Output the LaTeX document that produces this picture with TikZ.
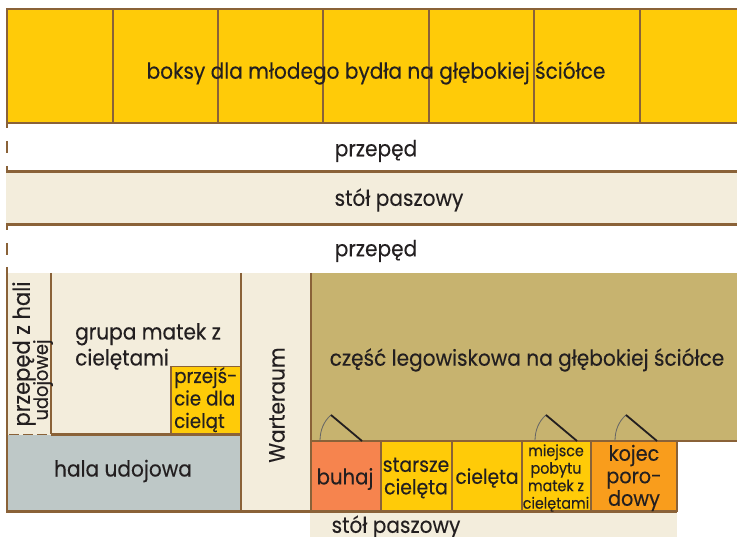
\documentclass[tikz,border=0pt]{standalone}
\usepackage{fontspec}
\setmainfont[FakeStretch=0.915,FakeBold=0.25]{Poppins}
\definecolor{wall}{HTML}{8A6238}
\definecolor{yel}{HTML}{FFCB08}
\definecolor{bei}{HTML}{F3EDDC}
\definecolor{oli}{HTML}{C7B36F}
\definecolor{gry}{HTML}{BEC8C7}
\definecolor{sal}{HTML}{F6844E}
\definecolor{ora}{HTML}{F99D1C}
\definecolor{ink}{HTML}{231F20}
\tikzset{
 thick wall/.style={draw=wall,line width=2.5pt},
 thin wall/.style={draw=wall,line width=1.3pt},
 lbl/.style={text=ink,font=\fontsize{22}{24}\selectfont,inner sep=0pt,align=center},
 lbs/.style={text=ink,font=\fontsize{15.6}{17.5}\selectfont,inner sep=0pt,align=center},
 door/.style={draw=ink,line width=1.8pt},
 swing/.style={draw=gray!80!black,line width=0.8pt}
}
\begin{document}
\begin{tikzpicture}[x=1pt,y=-1pt]
\useasboundingbox (0,0) rectangle (737,537);
% bands
\fill[yel] (7,9) rectangle (737,123);
\fill[bei] (6,172) rectangle (737,224);
\fill[bei] (7,273) rectangle (311,511);
\fill[oli] (311,273) rectangle (737,441);
\fill[gry] (8,435) rectangle (241,511);
\fill[bei] (310,512) rectangle (677,537);
\fill[sal] (311,441) rectangle (381,511);
\fill[yel] (381,441) rectangle (591,511);
\fill[ora] (591,441) rectangle (677,511);
\fill[yel] (171,366) rectangle (241,434);
% top band walls
\draw[thick wall] (737,9) -- (7,9) -- (7,124);
\draw[thin wall] (7,123) -- (737,123);
\foreach \x in {113,218,323,429,534,640} \draw[thin wall,line width=1.1pt] (\x,9) -- (\x,123);
% corridors
\draw[thick wall,line width=1.5pt] (7,123) -- (7,128) (7,141) -- (7,153) (7,166) -- (7,172)
  (7,224) -- (7,230) (7,243) -- (7,255) (7,267) -- (7,273);
\draw[thick wall] (6,171.5) -- (737,171.5) (6,224.5) -- (737,224.5);
% lower walls
\draw[thick wall] (7,273) -- (7,511);
\draw[thick wall] (51,273) -- (51,434);
\draw[thick wall] (241,273) -- (241,511);
\draw[thick wall] (311,273) -- (311,511);
\draw[thick wall] (51,434.5) -- (241,434.5);
\draw[draw=wall,line width=1.5pt,dash pattern=on 10pt off 4pt] (9,434.5) -- (51,434.5);
\draw[thick wall] (6,511.5) -- (677,511.5);
\draw[thick wall] (311,441) -- (737,441);
\draw[thin wall] (171,434) -- (171,366.5) -- (241,366.5);
\draw[thick wall] (381,441) -- (381,511) (452,441) -- (452,511);
\draw[thin wall] (522,441) -- (522,511);
\draw[thick wall] (591,441) -- (591,511) (677,441) -- (677,511.5);
% doors
\draw[swing] (320,441) .. controls (320,430) and (324,421) .. (331,415);
\draw[door] (331,415) -- (362,441);
\draw[swing] (535,441) .. controls (535,430) and (539,421) .. (546,415);
\draw[door] (546,415) -- (577,441);
\draw[swing] (615,441) .. controls (615,430) and (619,421) .. (626,415);
\draw[door] (626,415) -- (657,441);
% labels
\node[lbl] (boksy) at (376,73) {boksy dla młodego bydła na głębokiej ściółce};
\node[lbl] (p1) at (376,151) {przepęd};
\node[lbl] (s1) at (399,200) {stół paszowy};
\node[lbl] (p2) at (376,251) {przepęd};
\node[lbl,align=left,anchor=north west,font=\fontsize{22}{26}\selectfont] (grupa) at (75,323) {grupa matek z\\cielętami};
\node[lbl,rotate=90,font=\fontsize{23}{24}\selectfont] (pz) at (24,354) {przepęd z hali};
\node[lbs,font=\fontsize{19.5}{20}\selectfont,rotate=90] (ud) at (43,380) {udojowej};
\node[lbl,align=left,anchor=north west,font=\fontsize{20}{22.5}\selectfont] (prz) at (174,367) {przejś-\\cie dla\\cieląt};
\node[lbl] (hala) at (123,471) {hala udojowa};
\node[lbl,rotate=90] (war) at (277,405) {Warteraum};
\node[lbl] (czesc) at (527,360) {część legowiskowa na głębokiej ściółce};
\node[lbl,font=\fontsize{21.5}{24}\selectfont] (buhaj) at (345,479) {buhaj};
\node[lbl,font=\fontsize{20.6}{22.5}\selectfont] (star) at (416,478) {starsze\\cielęta};
\node[lbl,font=\fontsize{20.4}{23}\selectfont] (ciel) at (487,478) {cielęta};
\node[lbs] (miej) at (556,478) {miejsce\\pobytu\\matek z\\cielętami};
\node[lbl,font=\fontsize{21}{22.5}\selectfont] (koj) at (634,478) {kojec\\poro-\\dowy};
\node[lbl] (s2) at (396,527) {stół paszowy};
\end{tikzpicture}
\end{document}
